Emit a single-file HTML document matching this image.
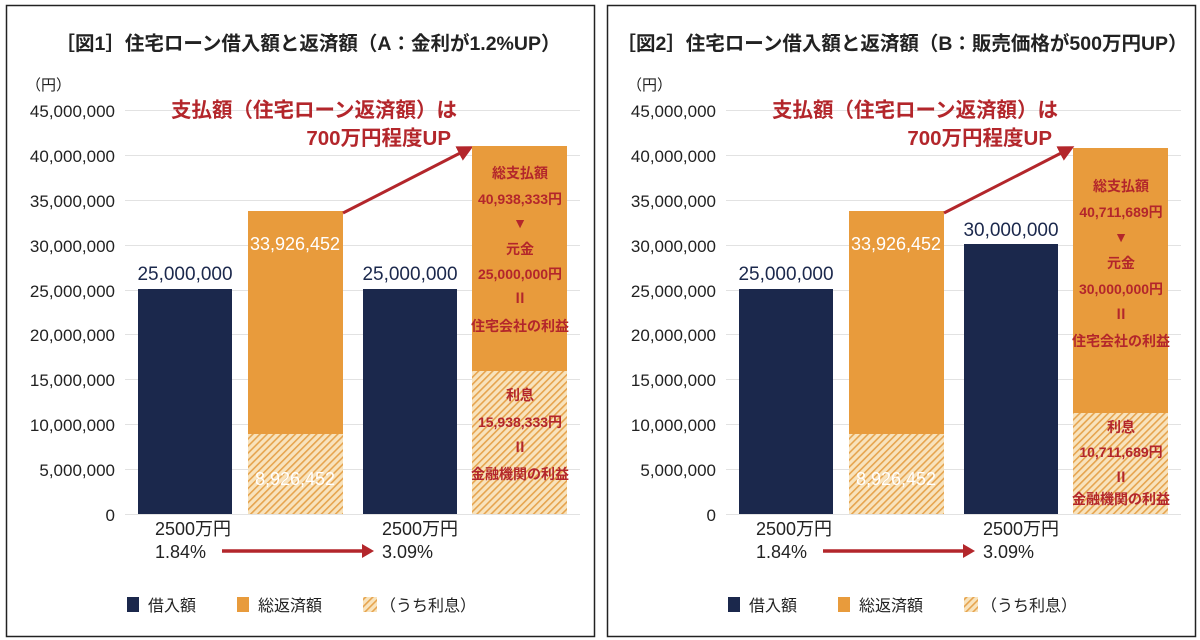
<!DOCTYPE html>
<html><head><meta charset="utf-8"><style>
body{margin:0;background:#fff}
svg{display:block;font-family:"Liberation Sans","Noto Sans CJK JP",sans-serif}
.ax{font-size:17px;fill:#222;text-anchor:end}
.t{font-size:19.5px;font-weight:bold;fill:#222;text-anchor:middle}
.r{fill:#b3262b;font-weight:bold}
.in{font-size:14px;font-weight:bold;fill:#b3262b;text-anchor:middle}
.lg{font-size:16px;fill:#222}
.xl{font-size:18px;fill:#222}
</style></head><body>
<svg width="1200" height="640" viewBox="0 0 1200 640">
<defs>
<pattern id="h" width="5" height="5" patternUnits="userSpaceOnUse" patternTransform="rotate(45)">
<rect width="5" height="5" fill="#f8e3bd"/><rect width="1.6" height="5" fill="#e6a44e"/></pattern>
<marker id="ar" markerWidth="12" markerHeight="14" refX="6" refY="7" orient="auto" markerUnits="userSpaceOnUse"><path d="M0,0 L12,7 L0,14z" fill="#b3262b"/></marker>
<marker id="ar2" markerWidth="16" markerHeight="16" refX="10" refY="8" orient="auto" markerUnits="userSpaceOnUse"><path d="M0,0 L16,8 L0,16z" fill="#b3262b"/></marker>
<g id="axis">
<g stroke="#e2e2e2" stroke-width="1">
<line x1="125" x2="580" y1="110.5" y2="110.5"/><line x1="125" x2="580" y1="155.5" y2="155.5"/>
<line x1="125" x2="580" y1="200.5" y2="200.5"/><line x1="125" x2="580" y1="245.5" y2="245.5"/>
<line x1="125" x2="580" y1="290.5" y2="290.5"/><line x1="125" x2="580" y1="334.5" y2="334.5"/>
<line x1="125" x2="580" y1="379.5" y2="379.5"/><line x1="125" x2="580" y1="424.5" y2="424.5"/>
<line x1="125" x2="580" y1="469.5" y2="469.5"/><line x1="125" x2="580" y1="514.5" y2="514.5"/></g>
<g class="ax">
<text x="115" y="117">45,000,000</text><text x="115" y="162">40,000,000</text>
<text x="115" y="207">35,000,000</text><text x="115" y="252">30,000,000</text>
<text x="115" y="297">25,000,000</text><text x="115" y="341">20,000,000</text>
<text x="115" y="386">15,000,000</text><text x="115" y="431">10,000,000</text>
<text x="115" y="476">5,000,000</text><text x="115" y="521">0</text></g>
<text x="26" y="90" font-size="15" fill="#222">（円）</text>
<rect x="138" y="289" width="94" height="225" fill="#1b284c"/>
<text x="185" y="280" font-size="19" fill="#1b284c" text-anchor="middle">25,000,000</text>
<rect x="248" y="211" width="95" height="224" fill="#e89b3c"/>
<rect x="248" y="434" width="95" height="80" fill="url(#h)"/>
<text x="295" y="250" font-size="18" fill="#fff" text-anchor="middle">33,926,452</text>
<text x="295" y="485" font-size="18" fill="#fff" text-anchor="middle">8,926,452</text>
<line x1="343" y1="213" x2="468" y2="149" stroke="#b3262b" stroke-width="3" marker-end="url(#ar2)"/>
<text x="314" y="117" font-size="20.5" class="r" text-anchor="middle">支払額（住宅ローン返済額）は</text>
<text x="451" y="145" font-size="20.5" class="r" text-anchor="end">700万円程度UP</text>
<g class="xl"><text x="155" y="535">2500万円</text><text x="155" y="558">1.84%</text>
<text x="382" y="535">2500万円</text><text x="382" y="558">3.09%</text></g>
<line x1="222" y1="551" x2="368" y2="551" stroke="#b3262b" stroke-width="3.5" marker-end="url(#ar)"/>
<rect x="127" y="597" width="12" height="15" fill="#1b284c"/><text x="148" y="611" class="lg">借入額</text>
<rect x="237" y="597" width="12" height="15" fill="#e89b3c"/><text x="258" y="611" class="lg">総返済額</text>
<rect x="363" y="597" width="14" height="15" fill="url(#h)"/><text x="380" y="611" class="lg">（うち利息）</text>
</g>
</defs>
<rect x="6.5" y="5.5" width="588" height="631" fill="none" stroke="#222" stroke-width="1.5"/>
<rect x="607.5" y="5.5" width="588" height="631" fill="none" stroke="#222" stroke-width="1.5"/>
<text x="308" y="50" class="t">［図1］住宅ローン借入額と返済額（A：金利が1.2%UP）</text>
<text x="902" y="50" class="t">［図2］住宅ローン借入額と返済額（B：販売価格が500万円UP）</text>
<use href="#axis"/>
<use href="#axis" x="601"/>
<rect x="363" y="289" width="94" height="225" fill="#1b284c"/>
<text x="410" y="280" font-size="19" fill="#1b284c" text-anchor="middle">25,000,000</text>
<rect x="472" y="146" width="95" height="226" fill="#e89b3c"/>
<rect x="472" y="371" width="95" height="143" fill="url(#h)"/>
<g class="in">
<text x="520" y="178">総支払額</text><text x="520" y="204">40,938,333円</text>
<text x="520" y="228">▼</text><text x="520" y="254">元金</text>
<text x="520" y="279">25,000,000円</text><text x="520" y="303">Ⅱ</text>
<text x="520" y="331">住宅会社の利益</text>
<text x="520" y="400">利息</text><text x="520" y="427">15,938,333円</text>
<text x="520" y="452">Ⅱ</text><text x="520" y="479">金融機関の利益</text></g>
<rect x="964" y="244" width="94" height="270" fill="#1b284c"/>
<text x="1011" y="236" font-size="19" fill="#1b284c" text-anchor="middle">30,000,000</text>
<rect x="1073" y="148" width="95" height="266" fill="#e89b3c"/>
<rect x="1073" y="413" width="95" height="101" fill="url(#h)"/>
<g class="in">
<text x="1121" y="191">総支払額</text><text x="1121" y="217">40,711,689円</text>
<text x="1121" y="242">▼</text><text x="1121" y="268">元金</text>
<text x="1121" y="294">30,000,000円</text><text x="1121" y="319">Ⅱ</text>
<text x="1121" y="346">住宅会社の利益</text>
<text x="1121" y="432">利息</text><text x="1121" y="457">10,711,689円</text>
<text x="1121" y="482">Ⅱ</text><text x="1121" y="504">金融機関の利益</text></g>
</svg>
</body></html>
